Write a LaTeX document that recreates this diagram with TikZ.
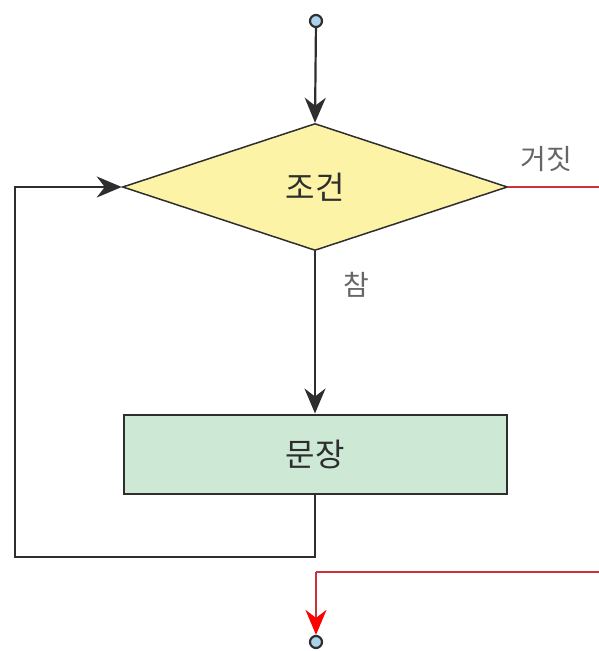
\documentclass[tikz,border=0pt]{standalone}
\usepackage{fontspec}
\newfontfamily\kr{Noto Sans CJK KR}
\usetikzlibrary{arrows.meta,shapes.geometric}
\definecolor{lineg}{HTML}{2E2E2E}
\definecolor{redl}{HTML}{D0303A}
\definecolor{dfill}{HTML}{FDF3A6}
\definecolor{rfill}{HTML}{CDE8D4}
\definecolor{cfill}{HTML}{A9D3EC}
\definecolor{lab}{HTML}{666666}
\begin{document}
\begin{tikzpicture}[x=1pt,y=-1pt,
  conn/.style={draw=lineg,line width=2.2pt},
  arr/.style={-{Stealth[length=25pt,width=21pt,inset=8pt]}},
  redconn/.style={draw=redl,line width=1.7pt},
  term/.style={circle,draw=lineg,fill=cfill,line width=2.2pt,minimum size=12pt,inner sep=0pt},
  dec/.style={diamond,draw=lineg,fill=dfill,line width=1.5pt,inner sep=0pt,minimum width=385pt,minimum height=127pt},
  stmt/.style={rectangle,draw=lineg,fill=rfill,line width=2pt,minimum width=383pt,minimum height=79pt,inner sep=0pt},
  txt/.style={font=\kr\fontsize{32}{34}\selectfont,text=lineg},
  lbl/.style={font=\kr\fontsize{28}{30}\selectfont,text=lab}]
\useasboundingbox (0,0) rectangle (598,651);
\node[term] (start) at (316,21) {};
\node[dec,shape aspect=3.03] (cond) at (315,187) {};
\node[txt] at (cond.center) {조건};
\node[stmt] (body) at (315,454) {};
\node[txt] at (body.center) {문장};
\node[term] (stop) at (316,642) {};
\node[lbl] (false) at (546,159) {거짓};
\node[lbl] (true) at (356,285) {참};
\coordinate (fr1) at (601,187);
\coordinate (fr2) at (601,572);
\coordinate (fr3) at (316,572);
\coordinate (lb1) at (315,557);
\coordinate (lb2) at (15,557);
\coordinate (lb3) at (15,187);
\draw[conn,arr] (start) -- (cond.north);
\draw[conn,arr] (cond.south) -- (body.north);
\draw[conn,arr] (body.south) -- (lb1) -- (lb2) -- (lb3) -- (cond.west);
\draw[redconn] (cond.east) -- (fr1) -- (fr2) -- (fr3);
\draw[redconn,-{Stealth[length=25pt,width=21pt,inset=8pt,color=red]}] (fr3) -- (stop.north);
\end{tikzpicture}
\end{document}
